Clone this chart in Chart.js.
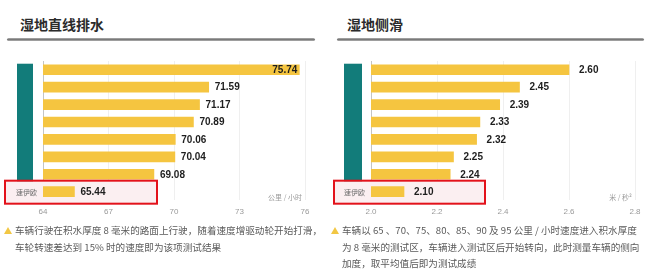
<!DOCTYPE html>
<html>
<head>
<meta charset="utf-8">
<script src="https://cdn.jsdelivr.net/npm/chart.js@4/dist/chart.umd.min.js"></script>
<style>
  html, body { margin: 0; padding: 0; background: #fff; width: 660px; height: 275px; overflow: hidden; }
  body { position: relative; font-family: "Noto Sans CJK SC", "Noto Sans", sans-serif; }
  .title { position: absolute; top: 14px; font-size: 14px; font-weight: bold; color: #2b2b2b; letter-spacing: 0px; }
  .rule { position: absolute; top: 38px; height: 3px; border-radius: 2px;
          background: linear-gradient(to bottom, #b0b0b0, #7a7a7a 50%, #b0b0b0); }
  .chart { position: absolute; top: 50px; }
  .note { position: absolute; top: 222px; font-size: 9.6px; line-height: 16.5px; color: #5a5a5a; white-space: nowrap; }
  .note .b { position: absolute; left: -11px; top: 5px; width: 0; height: 0;
             border-left: 4px solid transparent; border-right: 4px solid transparent; border-bottom: 7px solid #f2c744; }
</style>
</head>
<body>
<div class="title" style="left:20px;">湿地直线排水</div>
<div class="rule" style="left:7px; width:308px;"></div>
<div class="title" style="left:347px;">湿地侧滑</div>
<div class="rule" style="left:337px; width:307px;"></div>

<canvas id="c1" class="chart" style="left:0px;" width="330" height="180"></canvas>
<canvas id="c2" class="chart" style="left:330px;" width="330" height="180"></canvas>

<div class="note" style="left:15px;"><span class="b"></span>车辆行驶在积水厚度 8 毫米的路面上行驶，随着速度增驱动轮开始打滑，<br>车轮转速差达到 15% 时的速度即为该项测试结果</div>
<div class="note" style="left:342px;"><span class="b"></span>车辆以 65 、70、75、80、85、90 及 95 公里 / 小时速度进入积水厚度<br>为 8 毫米的测试区，车辆进入测试区后开始转向，此时测量车辆的侧向<br>加度，取平均值后即为测试成绩</div>

<script>
// ---- data ----
const categories = ['', '', '', '', '', '', '', '速伊欧'];
const waterValues = [75.74, 71.59, 71.17, 70.89, 70.06, 70.04, 69.08, 65.44];
const slideValues = [2.60, 2.45, 2.39, 2.33, 2.32, 2.25, 2.24, 2.10];
const waterTicks = [64, 67, 70, 73, 76];
const slideTicks = [2.0, 2.2, 2.4, 2.6, 2.8];
const waterUnit = '公里 / 小时';
const slideUnit = '米 / 秒²';

const overlayPlugin = {
  id: 'overlay',
  beforeDatasetsDraw(chart) {
    const o = chart.options.plugins.overlay;
    const ctx = chart.ctx;
    const ys = chart.scales.y;
    const last = categories.length - 1;
    const yc = ys.getPixelForValue(last);
    ctx.save();
    ctx.fillStyle = '#fbeff1';
    ctx.fillRect(o.boxLeft, yc - 11, o.boxRight - o.boxLeft, 23);
    ctx.restore();
  },
  afterDatasetsDraw(chart) {
    const o = chart.options.plugins.overlay;
    const ctx = chart.ctx;
    const ys = chart.scales.y;
    const area = chart.chartArea;
    const meta = chart.getDatasetMeta(0);
    const vals = chart.data.datasets[0].data;
    ctx.save();
    // value labels
    ctx.font = 'bold 10px "Liberation Sans", Arial, sans-serif';
    ctx.fillStyle = '#1e1e1e';
    ctx.textBaseline = 'middle';
    meta.data.forEach((bar, i) => {
      const txt = vals[i].toFixed(2);
      const w = ctx.measureText(txt).width;
      if (bar.x + o.gap + w > area.right) {
        ctx.textAlign = 'right';
        ctx.fillText(txt, bar.x - 2, bar.y + 0.5);
      } else {
        ctx.textAlign = 'left';
        ctx.fillText(txt, bar.x + o.gap, bar.y + 0.5);
      }
    });
    // category labels
    ctx.font = '7px "Noto Sans CJK SC", sans-serif';
    ctx.fillStyle = '#6a6a6a';
    ctx.textAlign = 'right';
    categories.forEach((c, i) => {
      if (c) ctx.fillText(c, area.left - 6, ys.getPixelForValue(i) + 0.5);
    });
    // teal mask over hidden labels
    const y0 = ys.getPixelForValue(0) - 6;
    const y1 = ys.getPixelForValue(categories.length - 2) + 7;
    ctx.fillStyle = '#127c7a';
    ctx.fillRect(o.maskLeft, y0, o.maskRight - o.maskLeft, y1 - y0);
    // highlight box
    const yc = ys.getPixelForValue(categories.length - 1);
    ctx.strokeStyle = '#e3121b';
    ctx.lineWidth = 2;
    ctx.strokeRect(o.boxLeft, yc - 11, o.boxRight - o.boxLeft, 23);
    // unit
    ctx.font = '7px "Noto Sans CJK SC", sans-serif';
    ctx.fillStyle = '#9a9a9a';
    ctx.textAlign = 'right';
    ctx.fillText(o.unit, area.right - 3, yc + 6);
    ctx.restore();
  }
};

function makeChart(id, values, ticks, ov) {
  return new Chart(document.getElementById(id), {
    type: 'bar',
    data: {
      labels: categories,
      datasets: [{ data: values, backgroundColor: '#f5c540', barThickness: 10, borderSkipped: false }]
    },
    options: {
      indexAxis: 'y',
      responsive: false,
      animation: false,
      devicePixelRatio: 1,
      layout: { padding: { left: ov.padLeft, right: ov.padRight, top: 11, bottom: 6 } },
      plugins: { legend: { display: false }, tooltip: { enabled: false }, overlay: ov },
      scales: {
        x: {
          min: ticks[0], max: ticks[ticks.length - 1],
          afterBuildTicks(scale) { scale.ticks = ticks.map(v => ({ value: v })); },
          border: { display: false },
          grid: {
            drawTicks: false,
            color: ctx => ctx.index === 0 ? '#c4c4c4' : '#efefef',
            lineWidth: 1
          },
          ticks: {
            padding: 7,
            color: '#9a9a9a',
            font: { size: 8, family: '"Liberation Sans", Arial, sans-serif' },
            callback: (v) => ov.fmt(v)
          }
        },
        y: { display: false, offset: true, grid: { display: false } }
      }
    },
    plugins: [overlayPlugin]
  });
}

makeChart('c1', waterValues, waterTicks, {
  padLeft: 43, padRight: 25, gap: 6, unit: waterUnit,
  maskLeft: 17, maskRight: 33, boxLeft: 5, boxRight: 157,
  fmt: v => String(v)
});
makeChart('c2', slideValues, slideTicks, {
  padLeft: 41, padRight: 25, gap: 10, unit: slideUnit,
  maskLeft: 14, maskRight: 32, boxLeft: 4, boxRight: 155,
  fmt: v => Number(v).toFixed(1)
});
</script>
</body>
</html>
